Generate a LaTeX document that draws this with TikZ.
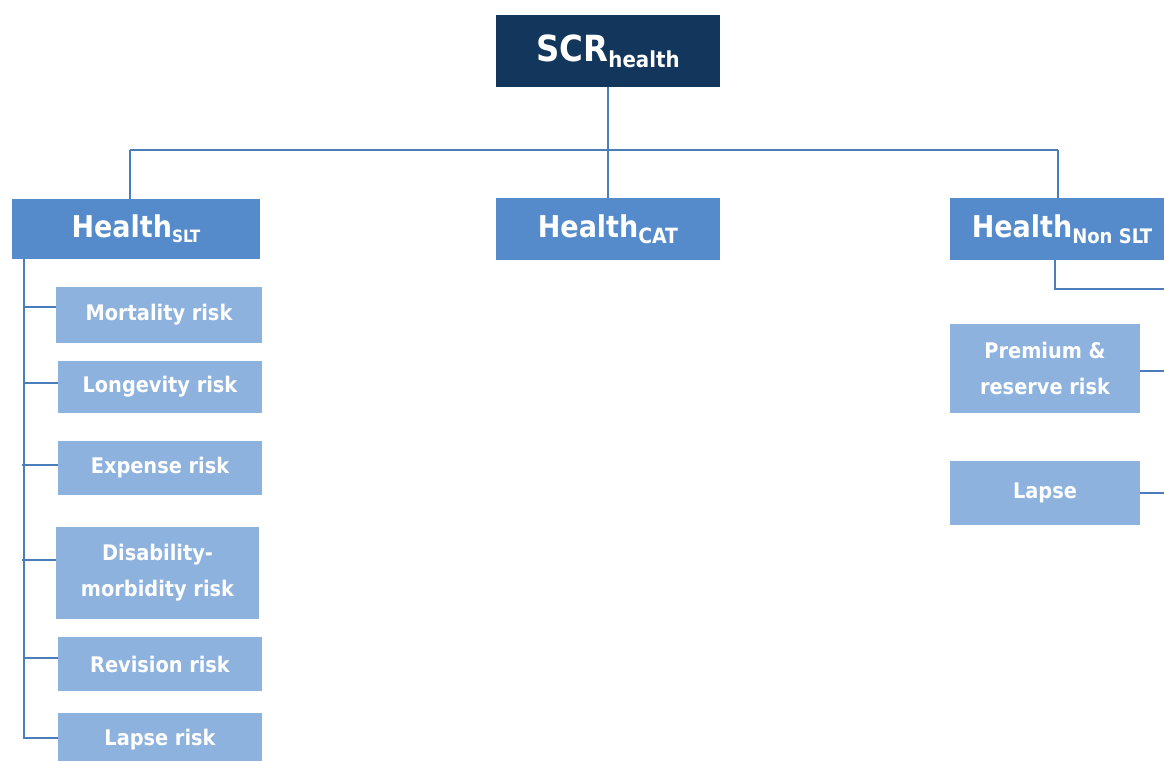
\documentclass[tikz,border=0pt]{standalone}
\usepackage{fontspec}
\setmainfont{DejaVu Sans Condensed}
\definecolor{navy}{RGB}{19,54,93}
\definecolor{midblue}{RGB}{86,139,203}
\definecolor{lightblue}{RGB}{142,178,222}
\definecolor{linkblue}{RGB}{74,126,187}
\newcommand{\sbs}[2]{{\fontsize{#1}{#1}\selectfont\raisebox{-0.28em}{#2}}}
\begin{document}
\begin{tikzpicture}[x=1pt,y=-1pt,
  box/.style={inner sep=0pt, text=white, font=\bfseries, align=center},
  topbox/.style={box, fill=navy, font=\bfseries\fontsize{36}{36}\selectfont},
  midbox/.style={box, fill=midblue, font=\bfseries\fontsize{30}{30}\selectfont},
  riskbox/.style={box, fill=lightblue, font=\bfseries\fontsize{21.5}{36}\selectfont},
  link/.style={draw=linkblue, line width=2.2pt}]
\useasboundingbox (0,0) rectangle (1164,760);
\clip (0,0) rectangle (1164,760);

% root
\node[topbox, minimum width=224pt, minimum height=72pt] (scr) at (608,51) {SCR\sbs{22}{health}};

% second level
\node[midbox, minimum width=248pt, minimum height=60pt] (slt) at (136,229) {Health\sbs{17}{SLT}};
\node[midbox, minimum width=224pt, minimum height=62pt] (cat) at (608,229) {Health\sbs{21}{CAT}};
\node[midbox, minimum width=224pt, minimum height=62pt] (nonslt) at (1062,229) {Health\sbs{20}{Non SLT}};

% SLT sub-risks
\node[riskbox, minimum width=206pt, minimum height=56pt] (mort) at (159,315) {Mortality risk};
\node[riskbox, minimum width=204pt, minimum height=52pt] (long) at (160,387) {Longevity risk};
\node[riskbox, minimum width=204pt, minimum height=54pt] (exp) at (160,468) {Expense risk};
\node[riskbox, minimum width=203pt, minimum height=92pt] (dis) at (157.5,573) {Disability-\\morbidity risk};
\node[riskbox, minimum width=204pt, minimum height=54pt] (rev) at (160,664) {Revision risk};
\node[riskbox, minimum width=204pt, minimum height=54pt] (lapr) at (160,740) {Lapse risk};

% Non-SLT sub-risks
\node[riskbox, minimum width=190pt, minimum height=89pt] (prem) at (1045,368.5) {Premium \&\\reserve risk};
\node[riskbox, minimum width=190pt, minimum height=64pt] (lapn) at (1045,493) {Lapse};

% bus coordinates
\coordinate (busL) at (130,150);
\coordinate (busR) at (1058,150);
\coordinate (spine) at (24,259);
\coordinate (edgeA) at (1164,289);
\coordinate (edgeB) at (1164,371);
\coordinate (edgeC) at (1164,493);
\coordinate (nsDrop) at (1055,260);

% top-level links
\draw[link] (scr.south) -- (scr.south |- busL);
\draw[link] (busL) -- (busR);
\draw[link] (busL) -- (busL |- slt.north);
\draw[link] (busL -| cat.north) -- (cat.north);
\draw[link] (busR) -- (busR |- nonslt.north);

% SLT spine and branches
\draw[link] (spine) -- ([yshift=2pt]spine |- lapr.west) -- ([yshift=2pt]lapr.west);
\draw[link] ([yshift=8pt]mort.west) -- ([yshift=8pt]mort.west -| spine);
\draw[link] ([yshift=4pt]long.west) -- ([yshift=4pt]long.west -| spine);
\draw[link] ([yshift=3pt]exp.west) -- ([yshift=3pt]exp.west -| spine) -- +(-2,0);
\draw[link] ([yshift=13pt]dis.west) -- ([yshift=13pt]dis.west -| spine) -- +(-2,0);
\draw[link] ([yshift=6pt]rev.west) -- ([yshift=6pt]rev.west -| spine);

% Non-SLT links
\draw[link] (nsDrop) |- (edgeA);
\draw[link] (prem.east |- edgeB) -- (edgeB);
\draw[link] (lapn.east |- edgeC) -- (edgeC);
\end{tikzpicture}
\end{document}
